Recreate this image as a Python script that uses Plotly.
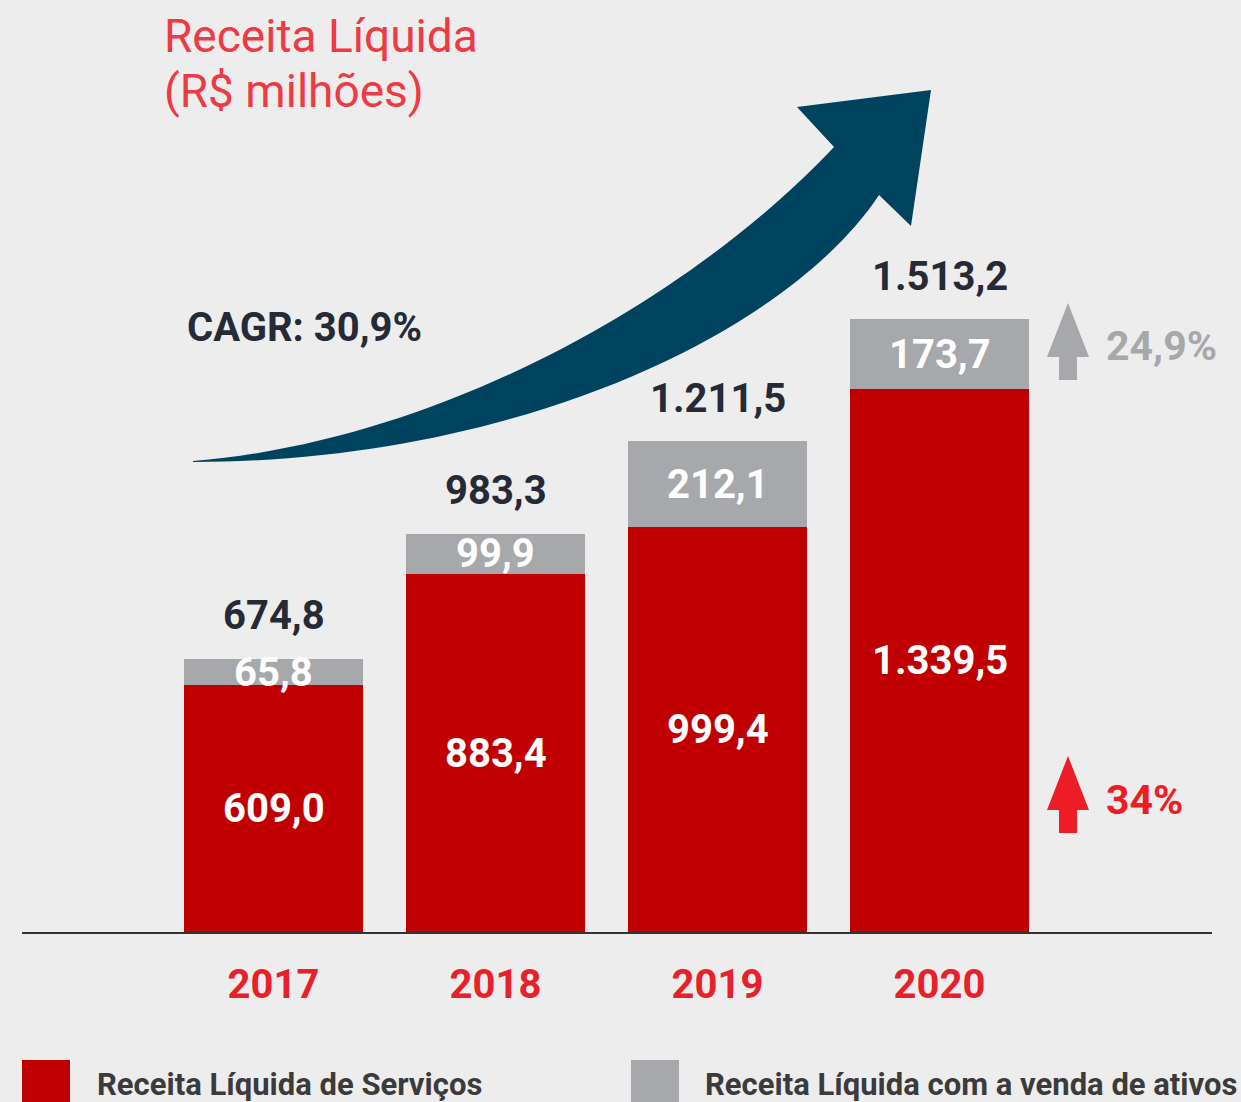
import plotly.graph_objects as go

years = ["2017", "2018", "2019", "2020"]
servicos = [609.0, 883.4, 999.4, 1339.5]
ativos = [65.8, 99.9, 212.1, 173.7]
totais = [674.8, 983.3, 1211.5, 1513.2]
lbl_serv = ["609,0", "883,4", "999,4", "1.339,5"]
lbl_ativ = ["65,8", "99,9", "212,1", "173,7"]
lbl_tot = ["674,8", "983,3", "1.211,5", "1.513,2"]

W, H = 1241, 1102
L, R, T, B = 22, 29, 0, 170
PW, PH = W - L - R, H - T - B

RED = "#c00000"
GRAY = "#a7a8ab"
DARK = "#262a36"
TRED = "#e8202a"
NAVY = "#00435f"
FONT = "Roboto"


def px(x):
    return (x - L) / PW


def py(y):
    return (T + PH - y) / PH


def path(points):
    return "M " + " L ".join(f"{px(x):.5f},{py(y):.5f}" for x, y in points) + " Z"


xs = list(range(len(years)))

fig = go.Figure()
fig.add_trace(go.Bar(x=xs, y=servicos, name="Receita Líquida de Serviços",
                     marker=dict(color=RED, line=dict(width=0)), width=0.806,
                     hoverinfo="skip"))
fig.add_trace(go.Bar(x=xs, y=ativos, name="Receita Líquida com a venda de ativos",
                     marker=dict(color=GRAY, line=dict(width=0)), width=0.806,
                     hoverinfo="skip"))

ann = []
for i in xs:
    ann.append(dict(x=i, y=servicos[i] / 2, text=lbl_serv[i], showarrow=False,
                    xref="x", yref="y", yanchor="middle",
                    font=dict(family=FONT, size=40, color="white", weight=700)))
    ann.append(dict(x=i, y=servicos[i] + ativos[i] / 2, text=lbl_ativ[i], showarrow=False,
                    xref="x", yref="y", yanchor="middle",
                    font=dict(family=FONT, size=40, color="white", weight=700)))
    ann.append(dict(x=i, y=totais[i], text=lbl_tot[i], showarrow=False,
                    xref="x", yref="y", yanchor="middle", yshift=43,
                    font=dict(family=FONT, size=40, color=DARK, weight=700)))

# Title
ann.append(dict(x=px(162), y=py(36), xref="paper", yref="paper", xanchor="left", yanchor="middle",
                text="Receita Líquida", showarrow=False,
                font=dict(family=FONT, size=46, color="#ee3a43")))
ann.append(dict(x=px(162), y=py(91), xref="paper", yref="paper", xanchor="left", yanchor="middle",
                text="(R$ milhões)", showarrow=False,
                font=dict(family=FONT, size=46, color="#ee3a43")))
# CAGR
ann.append(dict(x=px(185), y=py(327), xref="paper", yref="paper", xanchor="left", yanchor="middle",
                text="CAGR: 30,9%", showarrow=False,
                font=dict(family=FONT, size=40, color=DARK, weight=700)))
# growth labels
ann.append(dict(x=px(1104), y=py(346), xref="paper", yref="paper", xanchor="left", yanchor="middle",
                text="24,9%", showarrow=False,
                font=dict(family=FONT, size=41, color=GRAY, weight=700)))
ann.append(dict(x=px(1104), y=py(800), xref="paper", yref="paper", xanchor="left", yanchor="middle",
                text="34%", showarrow=False,
                font=dict(family=FONT, size=41, color="#ee1c25", weight=700)))
# legend texts
ann.append(dict(x=px(95), y=py(1084), xref="paper", yref="paper", xanchor="left", yanchor="middle",
                text="Receita Líquida de Serviços", showarrow=False,
                font=dict(family=FONT, size=31, color="#3b3b3b", weight=700)))
ann.append(dict(x=px(703), y=py(1084), xref="paper", yref="paper", xanchor="left", yanchor="middle",
                text="Receita Líquida com a venda de ativos", showarrow=False,
                font=dict(family=FONT, size=31, color="#3b3b3b", weight=700)))

shapes = []
# big curved arrow
p = lambda x, y: f"{px(x):.5f},{py(y):.5f}"
big = (f"M {p(193,461)} C {p(450,440)} {p(700,290)} {p(834,147)} "
       f"L {p(797,107)} L {p(931,90)} L {p(911,226)} L {p(879,195)} "
       f"C {p(790,330)} {p(520,462)} {p(193,462)} Z")
shapes.append(dict(type="path", xref="paper", yref="paper", path=big,
                   fillcolor=NAVY, line=dict(width=0), layer="above"))


def small_arrow(tip_y, color):
    pts = [(1068, tip_y), (1089, tip_y + 54), (1077, tip_y + 54), (1077, tip_y + 77),
           (1059, tip_y + 77), (1059, tip_y + 54), (1047, tip_y + 54)]
    return dict(type="path", xref="paper", yref="paper", path=path(pts),
                fillcolor=color, line=dict(width=0))


shapes.append(small_arrow(303, GRAY))
shapes.append(small_arrow(756, "#ee1c25"))
# legend squares
shapes.append(dict(type="rect", xref="paper", yref="paper", x0=px(22), x1=px(70),
                   y0=py(1060), y1=py(1110), fillcolor=RED, line=dict(width=0)))
shapes.append(dict(type="rect", xref="paper", yref="paper", x0=px(631), x1=px(679),
                   y0=py(1060), y1=py(1110), fillcolor=GRAY, line=dict(width=0)))

fig.update_layout(
    width=W, height=H, barmode="stack", showlegend=False,
    margin=dict(l=L, r=R, t=T, b=B, pad=0),
    paper_bgcolor="#ededed", plot_bgcolor="#ededed",
    annotations=ann, shapes=shapes,
    xaxis=dict(range=[-(273.5 - 22) / 222, (1212 - 273.5) / 222], tickvals=xs, ticktext=years,
               showgrid=False, zeroline=False, showline=True, linecolor="#333333", linewidth=2,
               ticks="", ticklabelstandoff=16,
               tickfont=dict(family=FONT, size=40, color=TRED, weight=700)),
    yaxis=dict(range=[0, 2301], visible=False, showgrid=False, zeroline=False),
)

fig.write_html("out.html", config={"displayModeBar": False},
               post_script="document.body.style.margin='0';document.body.style.background='#ededed';")
